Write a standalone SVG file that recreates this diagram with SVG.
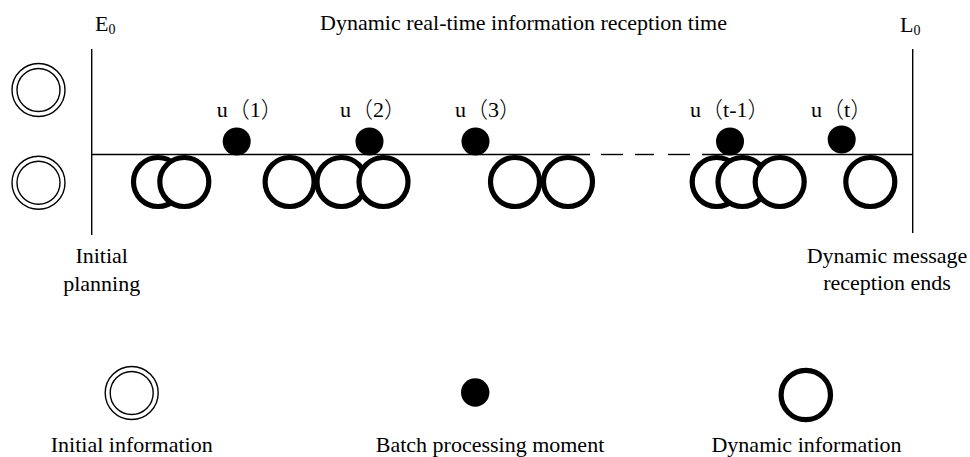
<svg xmlns="http://www.w3.org/2000/svg" width="970" height="457" viewBox="0 0 970 457">
<style>
.t{font-family:'Liberation Serif',serif;font-size:22px;fill:#000}
.cjk{font-family:'Noto Sans CJK SC',sans-serif;font-weight:300}
.ln{stroke:#000;stroke-width:1.4;fill:none}
.dbl-o{fill:#fff;stroke:#000;stroke-width:1.4}
.dyn{fill:#fff;stroke:#000;stroke-width:5.2}
.dot{fill:#000}
.sub{font-size:14px}
</style>
<defs>
<g id="dbl"><circle class="dbl-o" r="26.5"/><circle class="dbl-o" r="21.5"/></g>
</defs>
<rect width="970" height="457" fill="#fff"/>
<g id="timeline">
<line class="ln" x1="91.7" y1="49" x2="91.7" y2="235"/>
<line class="ln" x1="912.7" y1="49" x2="912.7" y2="233"/>
<line class="ln" x1="91.7" y1="154.5" x2="590" y2="154.5"/>
<line class="ln" x1="601" y1="154.5" x2="623" y2="154.5"/>
<line class="ln" x1="635" y1="154.5" x2="654" y2="154.5"/>
<line class="ln" x1="668" y1="154.5" x2="690" y2="154.5"/>
<line class="ln" x1="702" y1="154.5" x2="912.7" y2="154.5"/>
</g>
<g id="labels-top">
<text class="t" x="95" y="31" font-size="21">E<tspan class="sub" dy="3">0</tspan></text>
<text class="t" x="900" y="32" font-size="21">L<tspan class="sub" dy="3">0</tspan></text>
<text class="t" x="523.5" y="29.5" text-anchor="middle">Dynamic real-time information reception time</text>
</g>
<g id="initial-info">
<use href="#dbl" x="38.5" y="90"/>
<use href="#dbl" x="38.5" y="182.7"/>
</g>
<g id="dynamic-info">
<circle class="dyn" cx="158" cy="182" r="24.5"/>
<circle class="dyn" cx="184.3" cy="182" r="24.5"/>
<circle class="dyn" cx="289.6" cy="182" r="24.5"/>
<circle class="dyn" cx="341.5" cy="182" r="24.5"/>
<circle class="dyn" cx="383.5" cy="182" r="24.5"/>
<circle class="dyn" cx="515" cy="182" r="24.5"/>
<circle class="dyn" cx="568" cy="182" r="24.5"/>
<circle class="dyn" cx="716.7" cy="182" r="24.5"/>
<circle class="dyn" cx="742.5" cy="182" r="24.5"/>
<circle class="dyn" cx="779.7" cy="182" r="24.5"/>
<circle class="dyn" cx="870.3" cy="182" r="24.5"/>
</g>
<g id="batch-moments">
<circle class="dot" cx="236.7" cy="141.5" r="14"/>
<circle class="dot" cx="369.5" cy="141.5" r="14"/>
<circle class="dot" cx="475.5" cy="141.5" r="14"/>
<circle class="dot" cx="730" cy="141.5" r="14"/>
<circle class="dot" cx="841.7" cy="139.5" r="14"/>
</g>
<g id="ends">
<text class="t" x="101.7" y="263" text-anchor="middle">Initial</text>
<text class="t" x="101.7" y="291" text-anchor="middle">planning</text>
<text class="t" x="887" y="263" text-anchor="middle">Dynamic message</text>
<text class="t" x="887" y="290" text-anchor="middle">reception ends</text>
</g>
<g id="legend">
<use href="#dbl" x="131.7" y="393"/>
<circle class="dot" cx="475.2" cy="392.5" r="14.2"/>
<circle class="dyn" cx="805.8" cy="395" r="24.7"/>
<text class="t" x="131.7" y="452" text-anchor="middle">Initial information</text>
<text class="t" x="490" y="452" text-anchor="middle">Batch processing moment</text>
<text class="t" x="806.5" y="452" text-anchor="middle">Dynamic information</text>
</g>
<g id="batch-labels">
<text class="t" x="216.7" y="117">u<tspan class="cjk">（</tspan>1<tspan class="cjk">）</tspan></text>
<text class="t" x="340" y="117">u<tspan class="cjk">（</tspan>2<tspan class="cjk">）</tspan></text>
<text class="t" x="455" y="117">u<tspan class="cjk">（</tspan>3<tspan class="cjk">）</tspan></text>
<text class="t" x="690" y="117">u<tspan class="cjk">（</tspan>t-1<tspan class="cjk">）</tspan></text>
<text class="t" x="811" y="117">u<tspan class="cjk">（</tspan>t<tspan class="cjk">）</tspan></text>
</g>
</svg>
